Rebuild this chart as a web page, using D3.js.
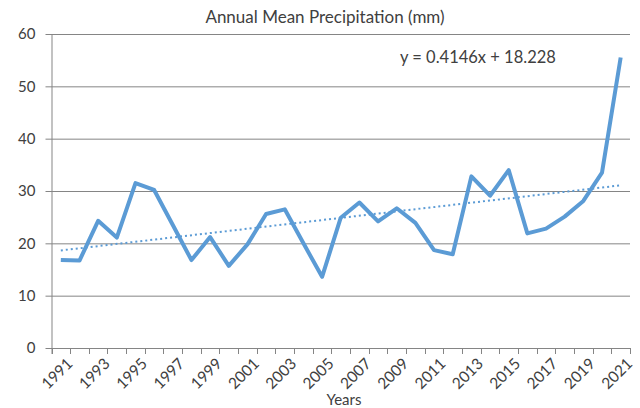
<!DOCTYPE html>
<html>
<head>
<meta charset="utf-8">
<script src="https://cdn.jsdelivr.net/npm/d3@7"></script>
<style>
  body { margin: 0; background: #fff; }
  svg { font-family: Lato, "Open Sans", sans-serif; }
</style>
</head>
<body>
<div id="chart"></div>
<script>
const years = d3.range(1991, 2022)
const precip = [16.8, 16.7, 24.3, 21.1, 31.5, 30.2, 23.5, 16.8, 21.2, 15.7,
	19.8, 25.6, 26.5, 20.0, 13.6, 24.9, 27.8, 24.2, 26.7, 23.9,
	18.7, 17.9, 32.8, 29.1, 34.0, 21.9, 22.8, 25.1, 28.1, 33.5, 55.5]
const yTicks = [0, 10, 20, 30, 40, 50, 60]
// trendline from the printed equation, x = 1..31
const slope = 0.4146, intercept = 18.228

const width = 640, height = 408
const plot = { left: 51.5, right: 630, top: 34, bottom: 348 }

let svg = d3.select('#chart')
.append('svg')
.attr('width', width)
.attr('height', height)

let xScale = d3.scaleBand()
.domain(years)
.range([plot.left, plot.right])
.padding(0)

const cx = d => xScale(d) + xScale.bandwidth() / 2

let yScale = d3.scaleLinear()
.domain([0, 60])
.range([plot.bottom, plot.top])

// gridlines
svg.append('g')
.selectAll('line')
.data(yTicks)
.join('line')
.attr('x1', plot.left - 6)
.attr('x2', plot.right)
.attr('y1', d => yScale(d) + 0.5)
.attr('y2', d => yScale(d) + 0.5)
.style('stroke', '#858585')
.style('stroke-width', 1)

// y axis labels
svg.append('g')
.selectAll('text')
.data(yTicks)
.join('text')
.attr('x', plot.left - 16)
.attr('y', d => yScale(d))
.attr('dy', '0.35em')
.attr('text-anchor', 'end')
.style('font-size', '15px')
.style('fill', '#404040')
.text(d => d)

svg.append('line')
.attr('x1', plot.left + 0.5).attr('x2', plot.left + 0.5)
.attr('y1', plot.top).attr('y2', plot.bottom + 6)
.style('stroke', '#858585')

// x ticks at category boundaries
let bounds = years.map(d => xScale(d)).concat([plot.right])
svg.append('g')
.selectAll('line')
.data(bounds)
.join('line')
.attr('x1', d => Math.round(d) + 0.5)
.attr('x2', d => Math.round(d) + 0.5)
.attr('y1', plot.bottom)
.attr('y2', plot.bottom + 6)
.style('stroke', '#858585')

svg.append('g')
.selectAll('text')
.data(years.filter((d, i) => i % 2 == 0))
.join('text')
.attr('transform', d => `translate(${cx(d) + 5}, ${plot.bottom + 9}) rotate(-45)`)
.attr('text-anchor', 'end')
.attr('dy', '0.7em')
.style('font-size', '15.5px')
.style('fill', '#404040')
.text(d => d)

// trendline
let trend = [1, years.length].map(n => ({ year: years[n - 1], v: slope * n + intercept }))
svg.append('line')
.attr('x1', cx(trend[0].year)).attr('y1', yScale(trend[0].v))
.attr('x2', cx(trend[1].year)).attr('y2', yScale(trend[1].v))
.style('stroke', '#5b9bd5')
.style('stroke-width', 2)
.style('stroke-dasharray', '2,3')

// data line
let lineFunc = d3.line()
.x((d, i) => cx(years[i]))
.y(d => yScale(d))

svg.append('path')
.datum(precip)
.attr('d', lineFunc)
.style('fill', 'none')
.style('stroke', '#5b9bd5')
.style('stroke-width', 4)
.style('stroke-linejoin', 'round')

svg.append('text')
.attr('x', 325).attr('y', 23)
.attr('text-anchor', 'middle')
.style('font-size', '17px')
.style('fill', '#404040')
.text('Annual Mean Precipitation (mm)')

svg.append('text')
.attr('x', 400).attr('y', 63)
.style('font-size', '16.5px')
.style('fill', '#404040')
.text('y = 0.4146x + 18.228')

svg.append('text')
.attr('x', 344).attr('y', 405)
.attr('text-anchor', 'middle')
.style('font-size', '15px')
.style('fill', '#404040')
.text('Years')
</script>
</body>
</html>
